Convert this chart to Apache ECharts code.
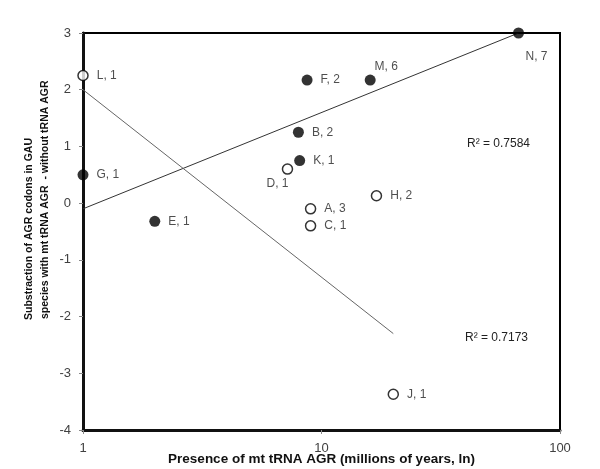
<!DOCTYPE html>
<html>
<head>
<meta charset="utf-8">
<script src="https://cdn.jsdelivr.net/npm/echarts@6/dist/echarts.min.js"></script>
<style>html,body{margin:0;padding:0;background:#fff;}#c{width:600px;height:469px;}</style>
</head>
<body>
<div id="c"></div>
<script>
// ---- data ----
const filledNames = ['G', 'E', 'B', 'K', 'F', 'M', 'N'];
const filledCounts = [1, 1, 2, 1, 2, 6, 7];
const filledX = [1, 2, 8.0, 8.1, 8.7, 16, 67];
const filledY = [0.5, -0.32, 1.25, 0.75, 2.17, 2.17, 3];

const openNames = ['L', 'D', 'A', 'C', 'H', 'J'];
const openCounts = [1, 1, 3, 1, 2, 1];
const openX = [1, 7.2, 9.0, 9.0, 17, 20];
const openY = [2.25, 0.6, -0.1, -0.4, 0.13, -3.37];

// trend line end points (log fit)
const trendFilledX = [1, 67];
const trendFilledY = [-0.1, 3];
const trendOpenX = [1, 20];
const trendOpenY = [2.0, -2.3];

const r2Filled = '0.7584';
const r2Open = '0.7173';

const xTicks = [1, 10, 100];
const yMin = -4, yMax = 3, yStep = 1;

// ---- label placement styles (not data) ----
const labelOffsets = { D: [-10, 15], M: [16, -13], N: [18, 24] };

const FONT = "'Liberation Sans', Arial, sans-serif";

function pts(names, counts, xs, ys) {
  return names.map((n, i) => {
    const d = { value: [xs[i], ys[i]], name: n + ', ' + counts[i] };
    if (labelOffsets[n]) {
      d.label = { position: 'inside', offset: labelOffsets[n], align: 'center', verticalAlign: 'middle' };
    }
    return d;
  });
}

const labelStyle = {
  show: true,
  position: 'right',
  distance: 8,
  formatter: p => p.name,
  color: '#222',
  fontSize: 12,
  fontFamily: FONT
};

const chart = echarts.init(document.getElementById('c'), null, { renderer: 'canvas' });
chart.setOption({
  animation: false,
  backgroundColor: '#fff',
  grid: { left: 83, right: 40, top: 33, bottom: 39, outerBoundsMode: 'none', containLabel: false,
    show: true, borderColor: '#000', borderWidth: 2, backgroundColor: 'transparent' },
  xAxis: {
    type: 'log', logBase: 10, min: xTicks[0], max: xTicks[xTicks.length - 1],
    axisLine: { onZero: false, lineStyle: { color: '#111', width: 3 } },
    axisTick: { show: true, length: 4, lineStyle: { color: '#888' } },
    minorTick: { show: false },
    splitLine: { show: false },
    axisLabel: { color: '#404040', fontSize: 13, fontFamily: FONT, margin: 12 },
    name: 'Presence of mt tRNA AGR (millions of years, ln)',
    nameLocation: 'middle', nameGap: 22, nameMoveOverlap: false,
    nameTextStyle: { fontWeight: 'bold', fontSize: 13.5, color: '#111', fontFamily: FONT }
  },
  yAxis: {
    type: 'value', min: yMin, max: yMax, interval: yStep,
    axisLine: { onZero: false, lineStyle: { color: '#111', width: 3 } },
    axisTick: { show: true, length: 4, lineStyle: { color: '#888' } },
    splitLine: { show: false },
    axisLabel: { color: '#404040', fontSize: 13, fontFamily: FONT, margin: 12 }
  },
  graphic: [
    { type: 'text', x: 29, y: 320, rotation: Math.PI / 2,
      style: { text: 'Substraction of AGR codons in GAU', x: 0, y: 0, textAlign: 'left', textVerticalAlign: 'middle',
        font: "bold 10.5px " + FONT, fill: '#111' } },
    { type: 'text', x: 45, y: 319, rotation: Math.PI / 2,
      style: { text: 'species with mt tRNA AGR  - without tRNA AGR', x: 0, y: 0, textAlign: 'left', textVerticalAlign: 'middle',
        font: "bold 10.5px " + FONT, fill: '#111' } },
    { type: 'text', x: 467, y: 144,
      style: { text: 'R² = ' + r2Filled, textAlign: 'left', textVerticalAlign: 'middle', font: "12px " + FONT, fill: '#222' } },
    { type: 'text', x: 465, y: 338,
      style: { text: 'R² = ' + r2Open, textAlign: 'left', textVerticalAlign: 'middle', font: "12px " + FONT, fill: '#222' } }
  ],
  series: [
    {
      type: 'line', data: trendFilledX.map((x, i) => [x, trendFilledY[i]]),
      symbol: 'none', lineStyle: { color: '#333', width: 1 }, z: 1, silent: true
    },
    {
      type: 'line', data: trendOpenX.map((x, i) => [x, trendOpenY[i]]),
      symbol: 'none', lineStyle: { color: '#666', width: 1 }, z: 1, silent: true
    },
    {
      type: 'scatter', data: pts(filledNames, filledCounts, filledX, filledY),
      symbol: 'circle', symbolSize: 11,
      itemStyle: { color: '#000' },
      label: labelStyle, z: 3
    },
    {
      type: 'scatter', data: pts(openNames, openCounts, openX, openY),
      symbol: 'circle', symbolSize: 10,
      itemStyle: { color: '#fff', borderColor: '#000', borderWidth: 1.5 },
      label: labelStyle, z: 3
    }
  ]
});
</script>
</body>
</html>
